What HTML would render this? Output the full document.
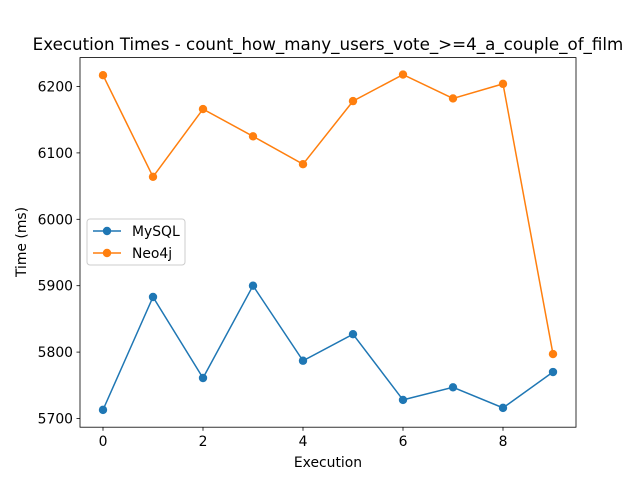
<!DOCTYPE html>
<html><head><meta charset="utf-8"><style>
body{margin:0;background:#fff;}
svg{font-family:"DejaVu Sans","Liberation Sans",sans-serif;}
</style></head><body>
<svg id="c" width="640" height="480" xmlns="http://www.w3.org/2000/svg">
<rect width="640" height="480" fill="#fff"/>
<text x="328" y="50" font-size="16.7" text-anchor="middle">Execution Times - count_how_many_users_vote_&gt;=4_a_couple_of_film</text>
<g id="plot"></g>
<rect x="80" y="57.6" width="496" height="369.6" fill="none" stroke="#000" stroke-width="0.8"/>
<text x="328" y="467" font-size="13.9" text-anchor="middle">Execution</text>
<text transform="translate(26,242) rotate(-90)" font-size="13.9" text-anchor="middle">Time (ms)</text>
<g>
<rect x="87" y="219" width="98" height="46" rx="3" fill="#fff" fill-opacity="0.8" stroke="#ccc"/>
<line x1="93" y1="231" x2="121" y2="231" stroke="#1f77b4" stroke-width="1.5"/>
<circle cx="107" cy="231" r="4.2" fill="#1f77b4"/>
<text x="132" y="236" font-size="13.9">MySQL</text>
<line x1="93" y1="253" x2="121" y2="253" stroke="#ff7f0e" stroke-width="1.5"/>
<circle cx="107" cy="253" r="4.2" fill="#ff7f0e"/>
<text x="132" y="258" font-size="13.9">Neo4j</text>
</g>
</svg>
<script>
const executions=[0,1,2,3,4,5,6,7,8,9];
const mysqlTimes=[5713,5883,5761,5900,5787,5827,5728,5747,5716,5770];
const neo4jTimes=[6217,6064,6166,6125,6083,6178,6218,6182,6204,5797];
const xTicks=[0,2,4,6,8];
const yTicks=[5700,5800,5900,6000,6100,6200];
const NS="http://www.w3.org/2000/svg";
const xs=v=>103+v*50;
const ys=v=>418.5-(v-5700)*0.664;
const g=document.getElementById('plot');
function mk(t,a){const e=document.createElementNS(NS,t);for(const k in a)e.setAttribute(k,a[k]);g.appendChild(e);return e;}
xTicks.forEach(t=>{
 const l=mk('line',{x1:xs(t),x2:xs(t),y1:427.2,y2:430.7,stroke:'#000','stroke-width':0.8});
 
 
 const tx=mk('text',{x:xs(t),y:446,'font-size':13.9,'text-anchor':'middle'});tx.textContent=t;
 
 
});
yTicks.forEach(t=>{
 const l=mk('line',{x1:76.5,x2:80,y1:ys(t),y2:ys(t),stroke:'#000','stroke-width':0.8});
 
 
 const tx=mk('text',{x:73,y:ys(t)+5,'font-size':13.9,'text-anchor':'end'});tx.textContent=t;
 
 
});
function series(vals,color,name){
 const p=mk('polyline',{points:vals.map((v,i)=>xs(executions[i])+','+ys(v)).join(' '),fill:'none',stroke:color,'stroke-width':1.5});
 
 
 vals.forEach((v,i)=>{
  const c=mk('circle',{cx:xs(executions[i]),cy:ys(v),r:4.2,fill:color});
  
  
 });
}
series(mysqlTimes,'#1f77b4','mysql');
series(neo4jTimes,'#ff7f0e','neo4j');
</script>
</body></html>
